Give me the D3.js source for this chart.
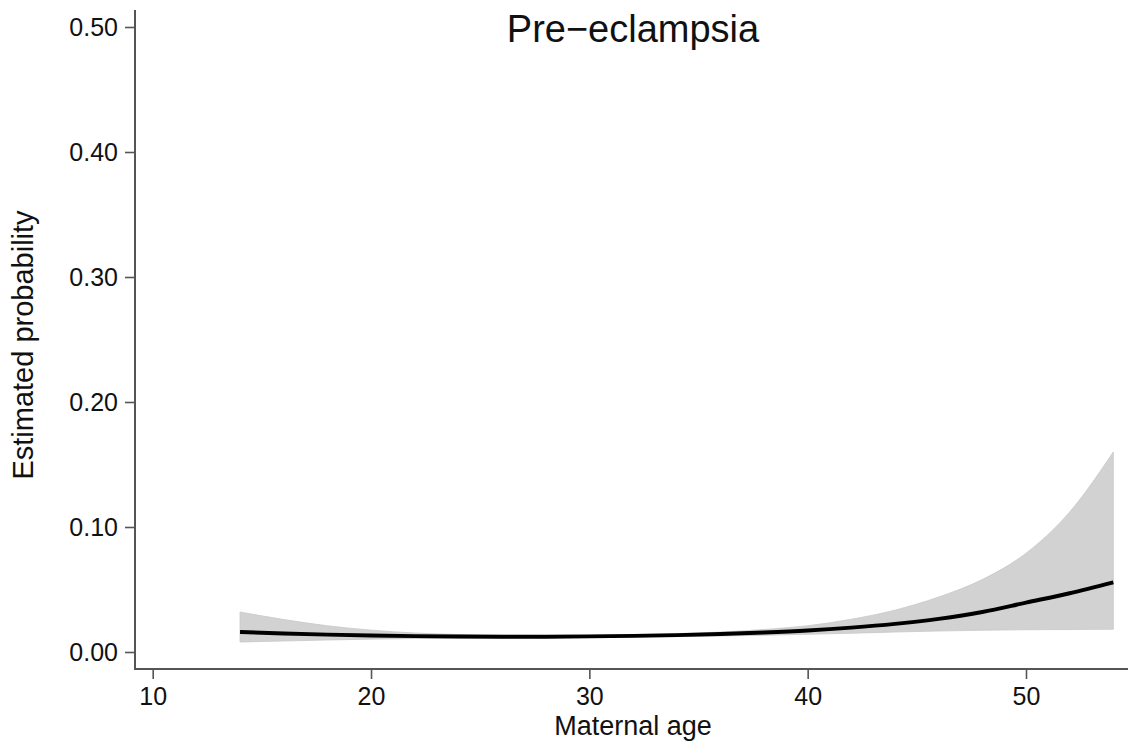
<!DOCTYPE html>
<html><head><meta charset="utf-8">
<script src="https://cdn.jsdelivr.net/npm/d3@7"></script>
<style>html,body{margin:0;padding:0;background:#fff;}svg{display:block;font-family:"Liberation Sans",Arial,sans-serif;}</style>
</head><body>
<script>
const title = "Pre\u2212eclampsia";
const xLabel = "Maternal age";
const yLabel = "Estimated probability";
const xTicks = [10, 20, 30, 40, 50];
const yTicks = [0, 0.1, 0.2, 0.3, 0.4, 0.5];
const ages  = [14, 16, 18, 20, 22, 24, 26, 28, 30, 32, 34, 36, 38, 40, 42, 44, 46, 48, 50, 52, 54];
const est   = [.0160, .0148, .0139, .0132, .0127, .0124, .0123, .0123, .0125, .0129, .0135, .0144, .0156, .0172, .0195, .0225, .0265, .0320, .0395, .0470, .0557];
const upper = [.0320, .0260, .0210, .0175, .0152, .0140, .0134, .0132, .0134, .0139, .0147, .0160, .0180, .0210, .0262, .0335, .0440, .0580, .0790, .1120, .1600];
const lower = [.0080, .0088, .0096, .0103, .0108, .0111, .0113, .0114, .0116, .0119, .0123, .0128, .0134, .0142, .0150, .0160, .0168, .0174, .0178, .0180, .0182];

const W = 1128, H = 742;
const svg = d3.select("body").append("svg").attr("width", W).attr("height", H);
const x = d3.scaleLinear().domain([10, 50]).range([152.7, 1026]);
const y = d3.scaleLinear().domain([0, 0.5]).range([652, 27]);
const axisColor = "#555";

const data = ages.map((a, i) => ({a, e: est[i], u: upper[i], l: lower[i]}));

svg.append("path").datum(data)
  .attr("d", d3.area().x(d => x(d.a)).y0(d => y(d.l)).y1(d => y(d.u)).curve(d3.curveMonotoneX))
  .attr("fill", "#d2d2d2").attr("stroke", "#c8c8c8").attr("stroke-width", 0.8);

svg.append("path").datum(data)
  .attr("d", d3.line().x(d => x(d.a)).y(d => y(d.e)).curve(d3.curveMonotoneX))
  .attr("fill", "none").attr("stroke", "#000").attr("stroke-width", 4);

// y axis
const yAxis = svg.append("g").attr("transform", "translate(135,0)")
  .call(d3.axisLeft(y).tickValues(yTicks).tickFormat(d3.format(".2f")).tickSize(10).tickSizeOuter(0));
yAxis.select(".domain").remove();
yAxis.append("line").attr("x1", 0).attr("x2", 0).attr("y1", 10).attr("y2", 670).attr("stroke", axisColor).attr("stroke-width", 2);
yAxis.selectAll(".tick line").attr("stroke", axisColor).attr("stroke-width", 1.6);
yAxis.selectAll(".tick text").attr("fill", "#111").style("font-size", "25px").attr("x", -17).attr("dy", "0.35em");

// x axis
const xAxis = svg.append("g").attr("transform", "translate(0,669)")
  .call(d3.axisBottom(x).tickValues(xTicks).tickFormat(d3.format("d")).tickSize(10).tickSizeOuter(0));
xAxis.select(".domain").remove();
xAxis.append("line").attr("x1", 134).attr("x2", 1128).attr("y1", 0).attr("y2", 0).attr("stroke", axisColor).attr("stroke-width", 2);
xAxis.selectAll(".tick line").attr("stroke", axisColor).attr("stroke-width", 1.6);
xAxis.selectAll(".tick text").attr("fill", "#111").style("font-size", "25px").attr("y", 36).attr("dy", "0");

svg.append("text").attr("x", 633).attr("y", 42).attr("text-anchor", "middle")
  .style("font-size", "38px").attr("fill", "#111").text(title);
svg.append("text").attr("x", 633).attr("y", 735).attr("text-anchor", "middle")
  .style("font-size", "27px").attr("fill", "#111").text(xLabel);
svg.append("text").attr("transform", "translate(33,345) rotate(-90)").attr("text-anchor", "middle")
  .style("font-size", "29px").attr("fill", "#111").text(yLabel);
</script>
</body></html>
